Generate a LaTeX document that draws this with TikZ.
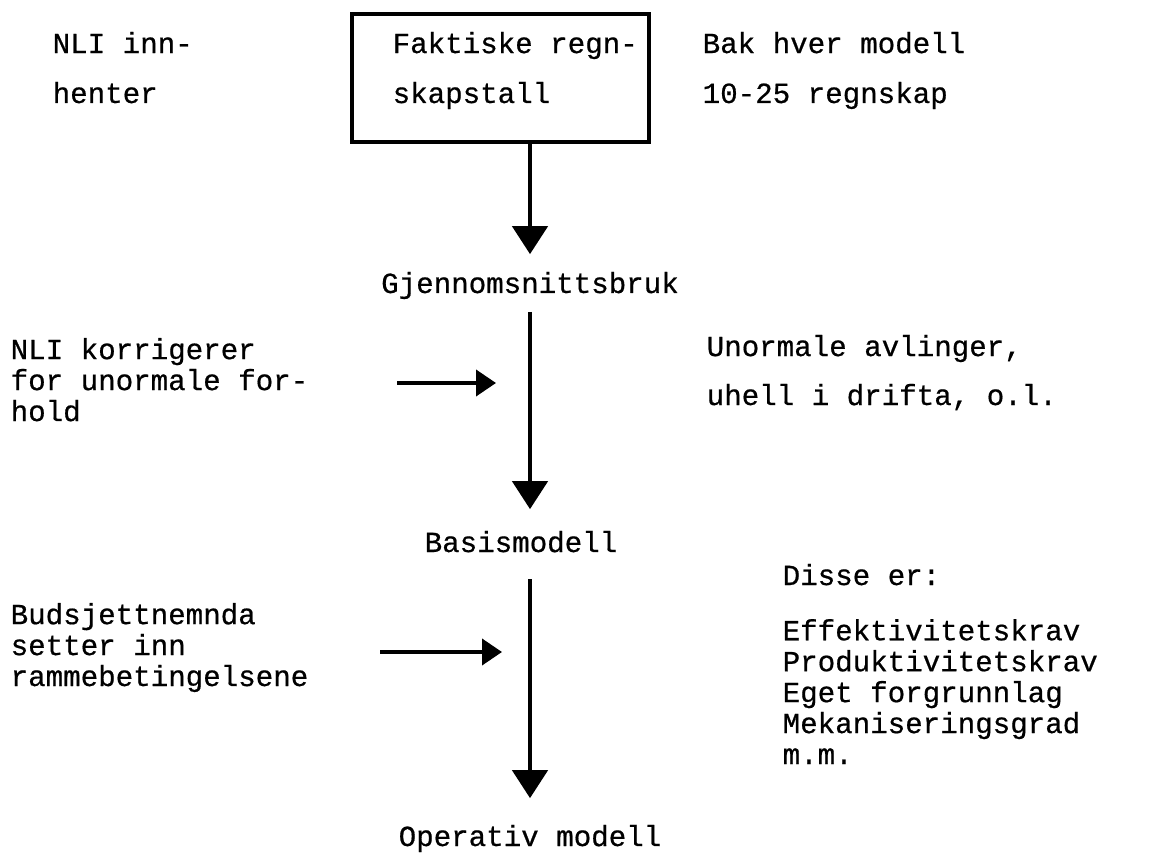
\documentclass[tikz,border=0pt]{standalone}
\usepackage{fontspec}
\newfontfamily\schreib[FakeBold=0.6]{Liberation Mono}
\usetikzlibrary{arrows.meta}

\begin{document}
\begin{tikzpicture}[
	tekst/.style={font=\schreib\fontsize{8.3}{8.8}\selectfont,inner sep=0pt,anchor=base west,align=left},
	ned/.style={line width=1.3pt,-{Triangle[width=0.35cm,length=0.28cm]}},
	inn/.style={line width=1.1pt,-{Triangle[width=0.26cm,length=0.2cm]}}]
	\useasboundingbox (0,0) rectangle (11.58,-8.55);
	\node[draw,line width=1.1pt,minimum width=2.97cm,minimum height=1.28cm,anchor=north west] (regnskap) at (3.5,-0.12) {};
	\node[tekst] (faktisk) at (3.92,-1.03) {Faktiske regn-\\[0.19cm]skapstall};
	\node[tekst] (nli) at (0.52,-1.03) {NLI inn-\\[0.19cm]henter};
	\node[tekst] (bak) at (7.02,-1.03) {Bak hver modell\\[0.19cm]10-25 regnskap};
	\node[tekst,anchor=base] (gjsn) at (5.3,-2.93) {Gjennomsnittsbruk};
	\node[tekst] (korr) at (0.10,-4.21) {NLI korrigerer\\for unormale for-\\hold};
	\node[tekst] (unorm) at (7.06,-4.05) {Unormale avlinger,\\[0.18cm]uhell i drifta, o.l.};
	\node[tekst] (basis) at (4.24,-5.52) {Basismodell};
	\node[tekst] (disse) at (7.82,-5.85) {Disse er:};
	\node[tekst] (krav) at (7.82,-7.64) {Effektivitetskrav\\Produktivitetskrav\\Eget forgrunnlag\\Mekaniseringsgrad\\m.m.};
	\node[tekst] (budsj) at (0.10,-6.86) {Budsjettnemnda\\setter inn\\rammebetingelsene};
	\node[tekst,anchor=base] (oper) at (5.3,-8.46) {Operativ modell};
	\coordinate (k1) at (3.97,-3.83);
	\coordinate (k2) at (3.80,-6.52);
	\draw[ned,shorten >=0.17cm] (regnskap.south -| gjsn) -- (gjsn.north);
	\draw[ned,shorten <=0.12cm,shorten >=0.21cm] (gjsn.south) -- (gjsn.south |- basis.north);
	\draw[ned,shorten <=0.26cm,shorten >=0.26cm] (gjsn |- basis.south) -- (oper.north);
	\draw[inn,shorten >=0.34cm] (k1) -- (k1 -| gjsn);
	\draw[inn,shorten >=0.28cm] (k2) -- (k2 -| gjsn);
\end{tikzpicture}
\end{document}
